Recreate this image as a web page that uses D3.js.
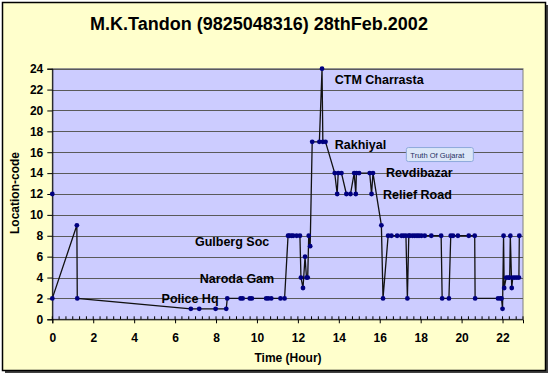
<!DOCTYPE html>
<html>
<head>
<meta charset="utf-8">
<script src="https://cdn.jsdelivr.net/npm/d3@7"></script>
<style>
  body { margin: 0; background: #fff; }
  svg text { font-family: "Liberation Sans", Arial, sans-serif; }
</style>
</head>
<body>
<svg id="svg" width="550" height="376"></svg>
<script>
// hour of day and location code for each reading, in order
let hours = [0, 1.2, 1.22, 6.77, 7.18, 7.98, 8.5, 8.55, 9.2, 9.3, 9.65, 9.75, 10.45, 10.55, 10.7, 11.15, 11.35,
  11.52, 11.58, 11.69, 11.77, 11.94, 12.1, 12.15, 12.25, 12.35, 12.42, 12.48, 12.53, 12.6, 12.7,
  13.05, 13.18, 13.22, 13.35, 13.8, 13.92, 13.97, 14.13, 14.37, 14.57, 14.75, 14.83, 14.86, 14.99,
  15.51, 15.6, 15.67, 16.08, 16.16, 16.41, 16.57, 16.85, 17.06, 17.17, 17.28, 17.35, 17.42, 17.47,
  17.6, 17.71, 17.82, 17.92, 18.04, 18.2, 18.52, 19.0, 19.05, 19.38, 19.47, 19.58, 19.82, 20.35,
  20.64, 20.66, 21.78, 21.9, 21.95, 22.0, 22.05, 22.08, 22.18, 22.27, 22.35, 22.38, 22.45, 22.5,
  22.6, 22.7, 22.8, 22.82];
let codes = [2, 9, 2, 1, 1, 1, 1, 2, 2, 2, 2, 2, 2, 2, 2, 2, 2,
  8, 8, 8, 8, 8, 8, 4, 3, 6, 4, 4, 8, 7, 17,
  17, 24, 17, 17, 14, 12, 14, 14, 12, 12, 14, 12, 14, 14,
  14, 12, 14, 9, 2, 8, 8, 8, 8, 8, 8, 2, 8, 8,
  8, 8, 8, 8, 8, 8, 8, 8, 2, 2, 8, 8, 8, 8,
  8, 2, 2, 2, 2, 1, 8, 3, 4, 4, 4, 8, 3, 4,
  4, 4, 4, 8];

// lone reading at midnight, not joined to the track
let loneHours = [0];
let loneCodes = [12];

// place names, anchored at (hour, code)
let places = ["CTM Charrasta", "Rakhiyal", "Revdibazar", "Relief Road", "Gulberg Soc", "Naroda Gam", "Police Hq"];
let placeHours = [13.8, 13.8, 16.3, 16.16, 6.97, 7.21, 5.34];
let placeCodes = [23.0, 16.7, 14.08, 11.9, 7.43, 3.93, 2.01];

let xTicks = [0, 2, 4, 6, 8, 10, 12, 14, 16, 18, 20, 22];
let yTicks = [0, 2, 4, 6, 8, 10, 12, 14, 16, 18, 20, 22, 24];

let plotLeft = 52.3, plotRight = 523, plotTop = 68.7, plotBottom = 319.3;

let svg = d3.select("#svg");

let x = d3.scaleLinear().domain([0, 23]).range([plotLeft, plotRight]);
let y = d3.scaleLinear().domain([0, 24]).range([plotBottom, plotTop]);

// chart area with shadow
svg.append("rect").attr("x", 5).attr("y", 5).attr("width", 543).attr("height", 368).attr("fill", "#404040");
svg.append("rect").attr("x", 2.5).attr("y", 2.5).attr("width", 543).attr("height", 368)
    .attr("fill", "#ffffcc").attr("stroke", "#000").attr("stroke-width", 1.5);

// plot area
svg.append("rect").attr("x", plotLeft).attr("y", plotTop)
    .attr("width", plotRight - plotLeft).attr("height", plotBottom - plotTop)
    .attr("fill", "#ccccff").attr("stroke", "#808080").attr("stroke-width", 1);

// grid lines
svg.append("g").selectAll("line")
    .data(yTicks.filter(d => d > 0))
    .enter()
    .append("line")
    .attr("x1", plotLeft).attr("x2", plotRight)
    .attr("y1", d => Math.round(y(d)) + 0.5).attr("y2", d => Math.round(y(d)) + 0.5)
    .attr("stroke", "#5a5a5a").attr("stroke-width", 1);

// x axis
let xAxis = svg.append("g")
    .attr("transform", `translate(0,${plotBottom})`)
    .call(d3.axisBottom(x).tickValues(xTicks).tickSize(4).tickPadding(10).tickFormat(d3.format("d")));
xAxis.select(".domain").attr("stroke", "#000");
xAxis.selectAll("text").attr("font-size", 12).attr("font-weight", "bold").attr("fill", "#000");

// minor ticks every 20 minutes, pointing into the plot
let minor = d3.range(0, 70).map(i => i / 3).filter(d => d <= 23);
svg.append("g").selectAll("line")
    .data(minor)
    .enter()
    .append("line")
    .attr("x1", d => x(d)).attr("x2", d => x(d))
    .attr("y1", plotBottom).attr("y2", plotBottom - 3)
    .attr("stroke", "#000");

// y axis
let yAxis = svg.append("g")
    .attr("transform", `translate(${plotLeft},0)`)
    .call(d3.axisLeft(y).tickValues(yTicks).tickSize(5).tickPadding(4));
yAxis.select(".domain").attr("stroke", "#000");
yAxis.selectAll("text").attr("font-size", 12).attr("font-weight", "bold").attr("fill", "#000");

// track
let pts = hours.map((h, i) => [h, codes[i]]);
let line = d3.line().x(d => x(d[0])).y(d => y(d[1]));

svg.append("path")
    .datum(pts)
    .attr("d", line)
    .attr("fill", "none")
    .attr("stroke", "#111")
    .attr("stroke-width", 1.3);

let allPts = pts.concat(loneHours.map((h, i) => [h, loneCodes[i]]));
svg.append("g").selectAll("circle")
    .data(allPts)
    .enter()
    .append("circle")
    .attr("cx", d => x(d[0]))
    .attr("cy", d => y(d[1]))
    .attr("r", 2.4)
    .attr("fill", "#000080");

// place labels
svg.append("g").selectAll("text")
    .data(places)
    .enter()
    .append("text")
    .attr("x", (d, i) => x(placeHours[i]))
    .attr("y", (d, i) => y(placeCodes[i]))
    .attr("dy", "0.35em")
    .attr("font-size", 12.5)
    .attr("font-weight", "bold")
    .attr("fill", "#000")
    .text(d => d);

// watermark box
let wm = svg.append("g").attr("transform", `translate(${x(17.3)},${y(16.45)})`);
wm.append("rect").attr("width", 67).attr("height", 14).attr("rx", 2)
    .attr("fill", "#dbe6f7").attr("stroke", "#8eaadb").attr("stroke-width", 1);
wm.append("text").attr("x", 4).attr("y", 10).attr("font-size", 7.5).attr("fill", "#1f2f5f")
    .text("Truth Of Gujarat");

// titles
svg.append("text")
    .attr("x", 259).attr("y", 29.5)
    .attr("text-anchor", "middle")
    .attr("font-size", 18).attr("font-weight", "bold")
    .text("M.K.Tandon (9825048316) 28thFeb.2002");

svg.append("text")
    .attr("x", 288).attr("y", 362)
    .attr("text-anchor", "middle")
    .attr("font-size", 12).attr("font-weight", "bold")
    .text("Time (Hour)");

svg.append("text")
    .attr("transform", "translate(19,193) rotate(-90)")
    .attr("text-anchor", "middle")
    .attr("font-size", 12).attr("font-weight", "bold")
    .text("Location-code");
</script>
</body>
</html>
